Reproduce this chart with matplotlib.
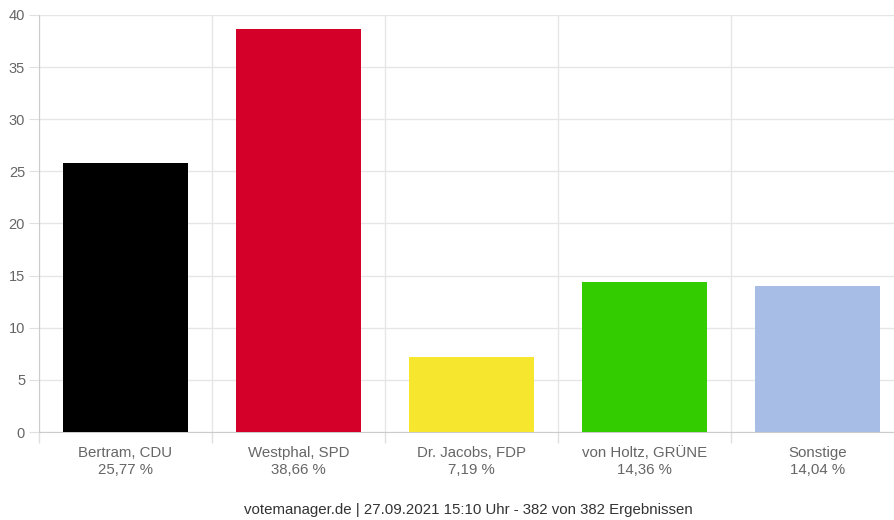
import matplotlib.pyplot as plt

plt.rcParams['font.family'] = ['Liberation Sans', 'DejaVu Sans']

candidates = ['Bertram, CDU', 'Westphal, SPD', 'Dr. Jacobs, FDP', 'von Holtz, GRÜNE', 'Sonstige']
shares = [25.77, 38.66, 7.19, 14.36, 14.04]
share_labels = ['25,77 %', '38,66 %', '7,19 %', '14,36 %', '14,04 %']
colors = ['#000000', '#d5002a', '#f7e62e', '#33cc00', '#a8bde6']
footer = 'votemanager.de | 27.09.2021 15:10 Uhr - 382 von 382 Ergebnissen'

fig = plt.figure(figsize=(8.95, 5.2), dpi=100)
# chart is cut off on the right side in the reference
ax = fig.add_axes([39 / 895, 88 / 520, 5 * 173 / 895, 417 / 520])

x = list(range(len(candidates)))
ax.bar(x, shares, width=0.72, color=colors, zorder=3)

ax.set_xlim(-0.5, len(candidates) - 0.5)
ax.set_ylim(0, 40)
ax.set_yticks(range(0, 41, 5))

ax.set_xticks(x)
ax.set_xticklabels([f'{c}\n{s}' for c, s in zip(candidates, share_labels)],
                   fontsize=10.8, color='#666666', linespacing=1.3)
ax.tick_params(axis='x', which='major', length=0, pad=10)
ax.set_xticks([i - 0.5 for i in range(len(candidates) + 1)], minor=True)
ax.tick_params(axis='x', which='minor', length=8, color='#e0e0e0', width=1)
ax.tick_params(axis='y', length=7, color='#e0e0e0', labelcolor='#666666',
               labelsize=10.5, pad=3)

ax.grid(True, which='minor', axis='x', color='#e6e6e6', lw=1, zorder=0)
ax.grid(True, which='major', axis='y', color='#e6e6e6', lw=1, zorder=0)

for side in ['top', 'right']:
    ax.spines[side].set_visible(False)
ax.spines['left'].set_color('#cccccc')
ax.spines['bottom'].set_color('#cccccc')

fig.text(468 / 895, 10 / 520, footer, ha='center', va='center',
         fontsize=10.8, color='#333333')

fig.savefig('out.png', dpi=100)
